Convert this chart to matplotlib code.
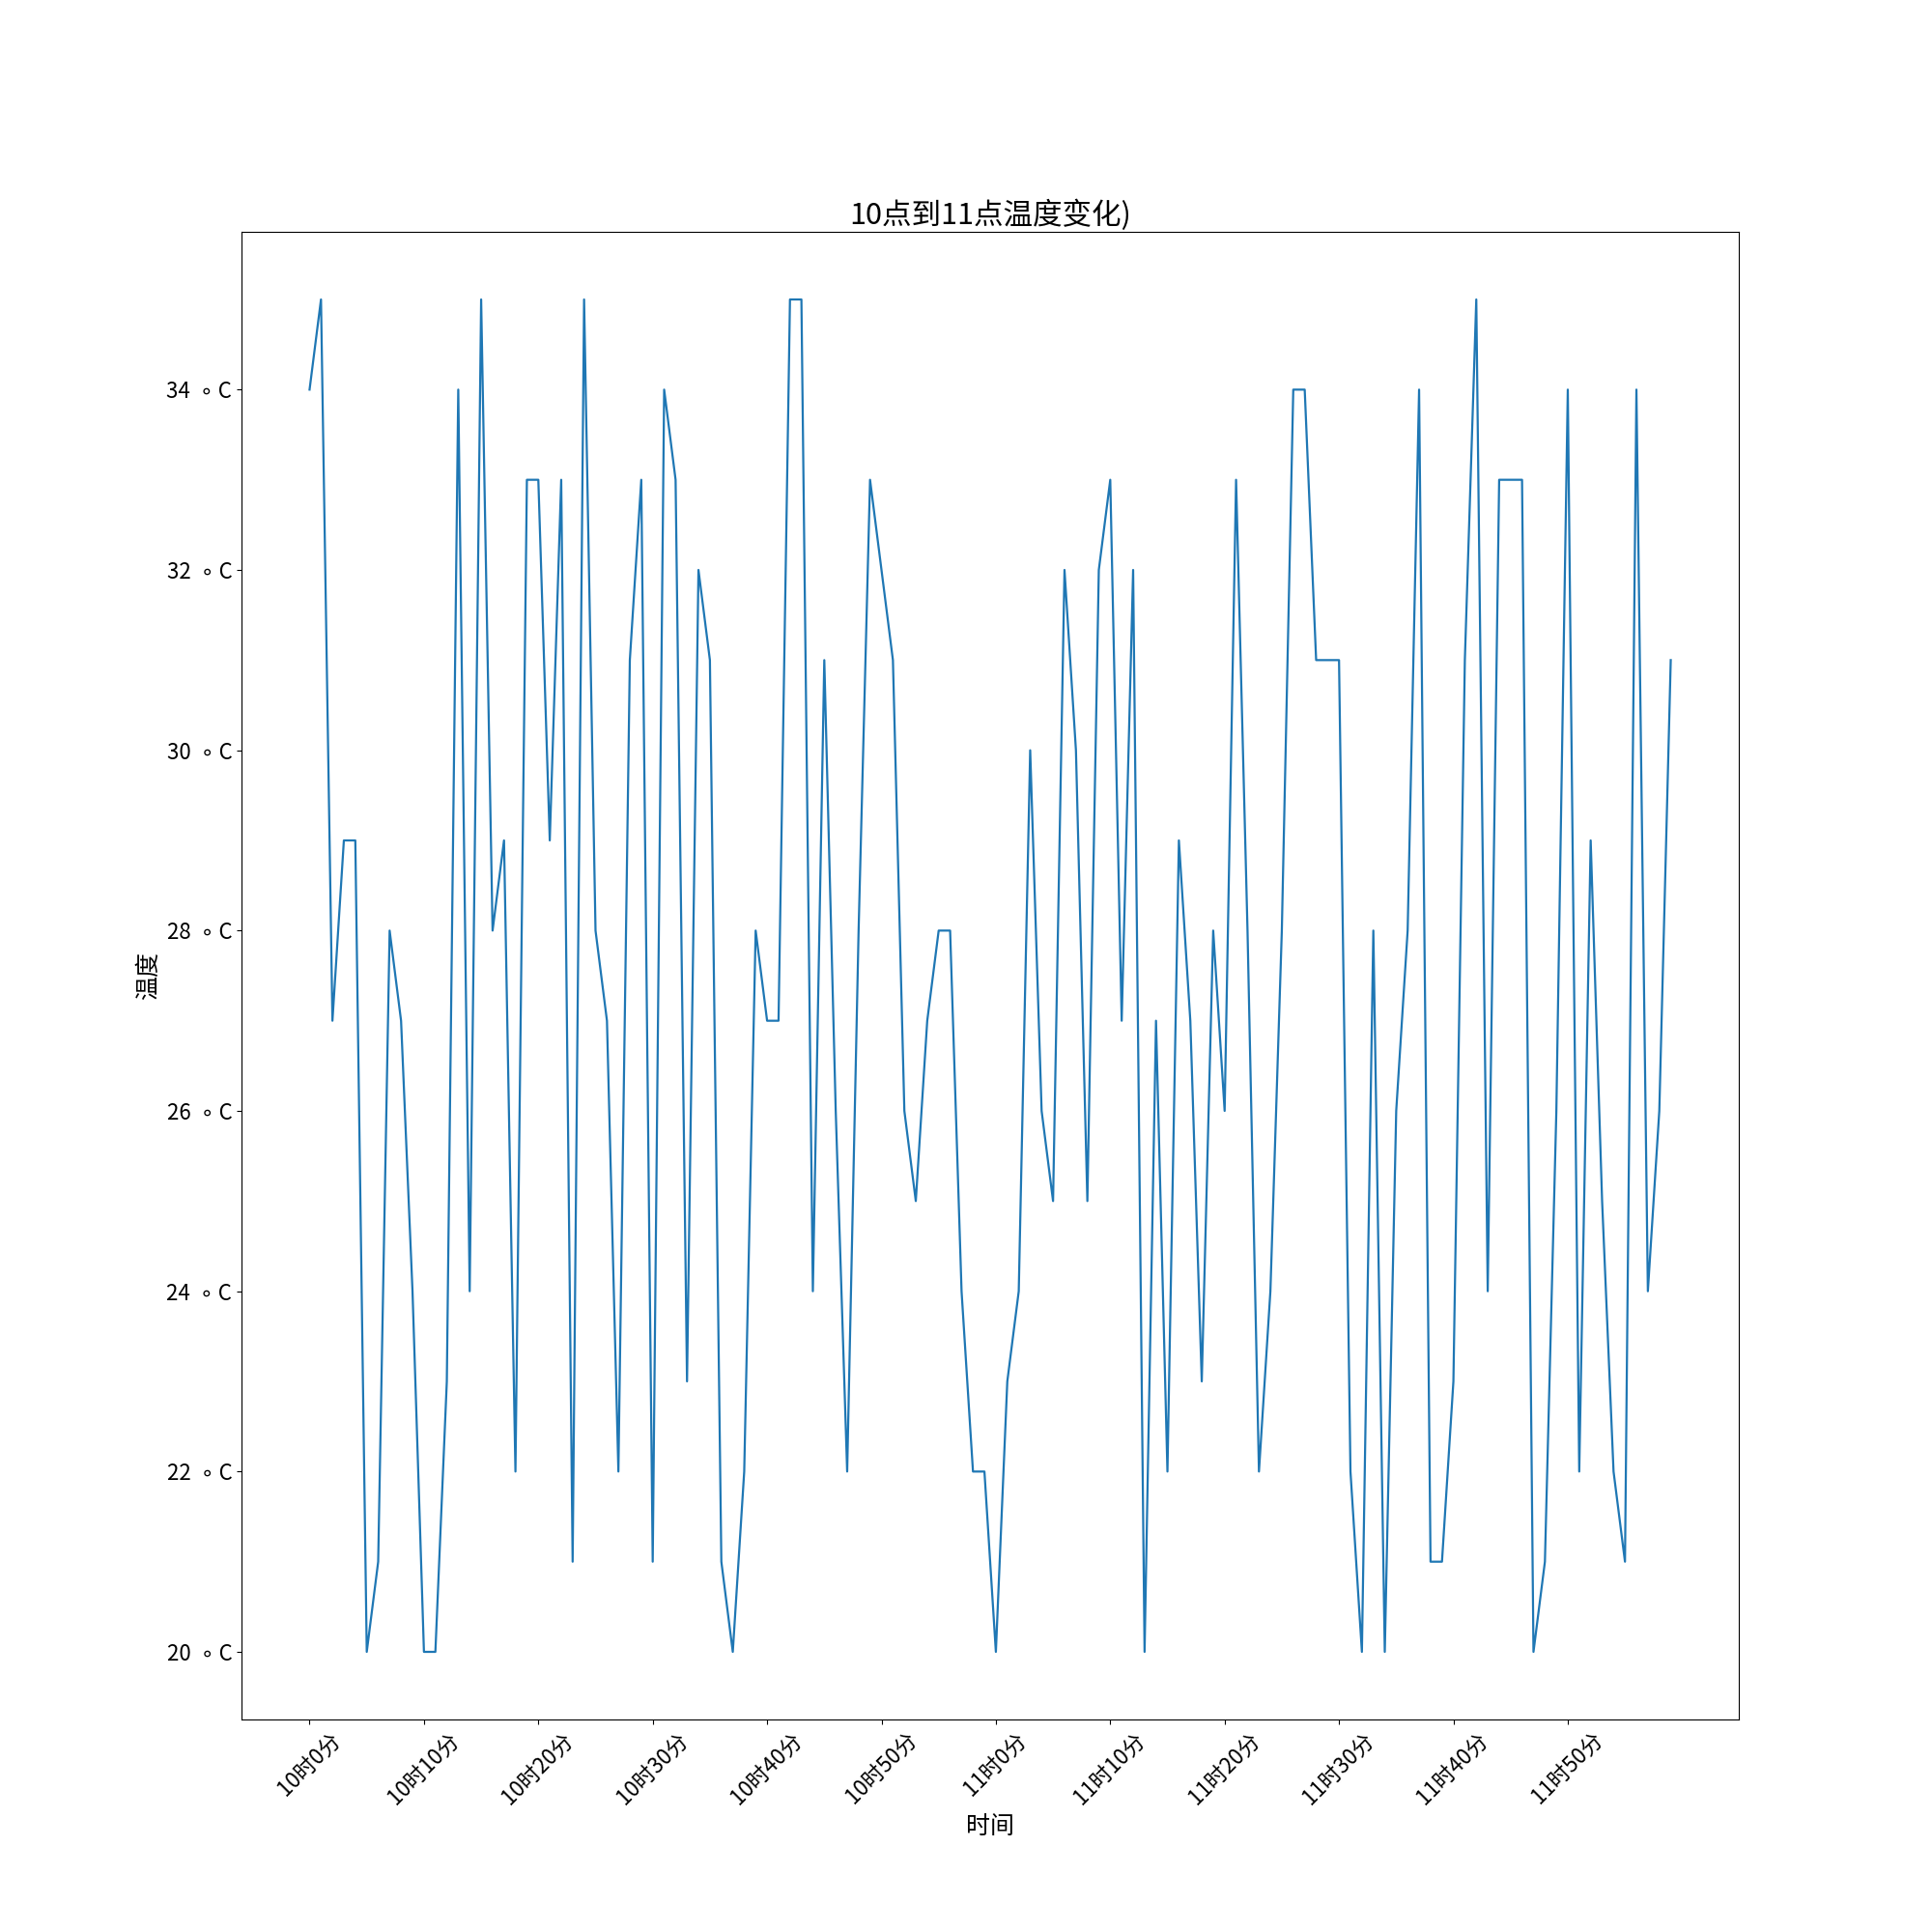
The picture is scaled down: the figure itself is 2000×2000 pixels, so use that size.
import matplotlib
matplotlib.use('Agg')
import matplotlib.pyplot as plt

plt.rcParams['font.family'] = ['Noto Sans CJK SC', 'DejaVu Sans']

# temperature reading per minute, 10:00 - 11:59
temps = [34, 35, 27, 29, 29, 20, 21, 28, 27, 24,
         20, 20, 23, 34, 24, 35, 28, 29, 22, 33,
         33, 29, 33, 21, 35, 28, 27, 22, 31, 33,
         21, 34, 33, 23, 32, 31, 21, 20, 22, 28,
         27, 27, 35, 35, 24, 31, 26, 22, 28, 33,
         32, 31, 26, 25, 27, 28, 28, 24, 22, 22,
         20, 23, 24, 30, 26, 25, 32, 30, 25, 32,
         33, 27, 32, 20, 27, 22, 29, 27, 23, 28,
         26, 33, 28, 22, 24, 28, 34, 34, 31, 31,
         31, 22, 20, 28, 20, 26, 28, 34, 21, 21,
         23, 31, 35, 24, 33, 33, 33, 20, 21, 26,
         34, 22, 29, 25, 22, 21, 34, 24, 26, 31]
minutes = list(range(len(temps)))
xlabels = ["%d时%d分" % (10 + m // 60, m % 60) for m in minutes]
yticks = list(range(20, 36, 2))
ylabels = ["%d  ∘ C" % t for t in yticks]

fig = plt.figure(figsize=(20, 20), dpi=100)
ax = fig.add_subplot(111)
ax.plot(minutes, temps, color='#1f77b4', linewidth=1.6)
ax.set_xticks(minutes[::10])
ax.set_xticklabels(xlabels[::10], rotation=45, fontsize=16)
ax.set_yticks(yticks)
ax.set_yticklabels(ylabels, fontsize=16)
ax.set_xlabel('时间', fontsize=18)
ax.set_ylabel('温度', fontsize=18)
ax.set_title('10点到11点温度变化)', fontsize=22)
fig.savefig('out.png')
